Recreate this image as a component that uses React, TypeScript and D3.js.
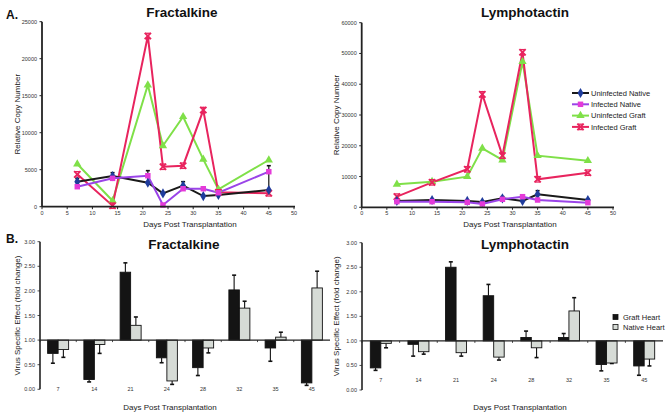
import React from "react";
import * as d3 from "d3";

const days = [7, 14, 21, 24, 28, 32, 35, 45];
const seriesNames = ["Uninfected Native", "Infected Native", "Uninfected Graft", "Infected Graft"];

// Panel A – Fractalkine (relative copy number)
const fracUninfNative = [3380, 4140, 3240, 1800, 2840, 1440, 1580, 2260];
const fracUninfNativeErr = [450, 460, 1630, 0, 540, 0, 0, 3280];
const fracInfNative = [2700, 3830, 4190, 225, 2430, 2430, 1890, 4730];
const fracUninfGraft = [5770, 810, 16440, 8240, 12160, 6400, 2340, 6310];
const fracInfGraft = [4370, 135, 23070, 5400, 5540, 13060, 1940, 1810];
const fracYTicks = [0, 5000, 10000, 15000, 20000, 25000];

// Panel A – Lymphotactin
const lymUninfNative = [2060, 2380, 2060, 1730, 2920, 2050, 4230, 2370];
const lymUninfNativeErr = [200, 250, 200, 150, 550, 250, 1170, 300];
const lymInfNative = [1840, 1840, 1620, 1080, 2600, 3450, 2370, 1500];
const lymUninfGraft = [7470, 8340, 9960, 19170, 15380, 47320, 16770, 15150];
const lymInfGraft = [3470, 8120, 12350, 36710, 16790, 50380, 9100, 11250];
const lymYTicks = [0, 10000, 20000, 30000, 40000, 50000, 60000];

const xTicks = [0, 5, 10, 15, 20, 25, 30, 35, 40, 45, 50];

// Panel B – virus specific effect (fold change)
const barSeries = ["Graft Heart", "Native Heart"];
const fracGraft = [0.73, 0.2, 2.38, 0.64, 0.44, 2.02, 0.84, 0.13];
const fracGraftErr = [0.2, 0.05, 0.19, 0.1, 0.16, 0.3, 0.27, 0.05];
const fracNative = [0.81, 0.91, 1.3, 0.17, 0.84, 1.65, 1.06, 2.06];
const fracNativeErr = [0.16, 0.18, 0.17, 0.07, 0.1, 0.14, 0.1, 0.34];
const lymGraft = [0.45, 0.93, 2.5, 1.92, 1.07, 1.07, 0.52, 0.49];
const lymGraftErr = [0.05, 0.24, 0.11, 0.23, 0.13, 0.08, 0.13, 0.19];
const lymNative = [0.95, 0.78, 0.76, 0.67, 0.86, 1.61, 0.55, 0.63];
const lymNativeErr = [0.09, 0.05, 0.07, 0.06, 0.2, 0.27, 0.01, 0.14];
const barYTicks = [0, 0.5, 1, 1.5, 2, 2.5, 3];

const FONT = "Arial, 'Liberation Sans', sans-serif";
const LINE_COLORS = ["#1a1a1a", "#9a44e8", "#7fe048", "#e8245e"];
const MARK_COLORS = ["#1f3c9c", "#e43ad8", "#7fe048", "#e8245e"];
const SYMBOLS = [d3.symbolDiamond, d3.symbolSquare, d3.symbolTriangle, d3.symbolX];

function Marker({ i, x, y }: { i: number; x: number; y: number }) {
  const path = d3.symbol().type(SYMBOLS[i]).size(i === 3 ? 28 : 30)()!;
  if (i === 3) {
    return (
      <g transform={`translate(${x},${y})`}>
        <path d={path} fill="none" stroke={MARK_COLORS[i]} strokeWidth={1.8} />
        <line x1={-2.5} x2={2.5} y1={-2.7} y2={-2.7} stroke={MARK_COLORS[i]} strokeWidth={1.3} />
        <line x1={-2.5} x2={2.5} y1={2.7} y2={2.7} stroke={MARK_COLORS[i]} strokeWidth={1.3} />
      </g>
    );
  }
  return <path d={path} transform={`translate(${x},${y})`} fill={MARK_COLORS[i]} />;
}

type LineProps = {
  title: string;
  titleX: number;
  xRange: [number, number];
  yRange: [number, number];
  yMax: number;
  yTicks: number[];
  series: number[][];
  err: number[];
  yLabelX: number;
  xTitleX: number;
};

function LinePanel(p: LineProps) {
  const x = d3.scaleLinear().domain([0, 50]).range(p.xRange);
  const y = d3.scaleLinear().domain([0, p.yMax]).range(p.yRange);
  const line = d3
    .line<number>()
    .x((_, i) => x(days[i]))
    .y((d) => y(d));
  const order = [2, 3, 0, 1];
  const y0 = p.yRange[0];
  return (
    <g fontFamily={FONT}>
      <text x={p.titleX} y={17} textAnchor="middle" fontSize={13.5} fontWeight="bold" fill="#111">
        {p.title}
      </text>
      {p.err.map((e, i) =>
        e > 0 ? (
          <g key={"e" + i}>
            <line x1={x(days[i])} x2={x(days[i])} y1={y(p.series[0][i])} y2={y(p.series[0][i] + e)} stroke="#111" strokeWidth={1.2} />
            <line x1={x(days[i]) - 2} x2={x(days[i]) + 2} y1={y(p.series[0][i] + e)} y2={y(p.series[0][i] + e)} stroke="#111" strokeWidth={1.6} />
          </g>
        ) : null
      )}
      {order.map((si) => (
        <path key={"l" + si} d={line(p.series[si])!} fill="none" stroke={LINE_COLORS[si]} strokeWidth={2} />
      ))}
      {order.map((si) =>
        p.series[si].map((v, i) => <Marker key={`m${si}-${i}`} i={si} x={x(days[i])} y={y(v)} />)
      )}
      <line x1={p.xRange[0]} x2={p.xRange[1] + 1} y1={y0} y2={y0} stroke="#222" strokeWidth={1.8} />
      <line x1={p.xRange[0]} x2={p.xRange[0]} y1={y0} y2={p.yRange[1]} stroke="#222" strokeWidth={1.8} />
      {xTicks.map((t) => (
        <g key={"xt" + t}>
          <line x1={x(t)} x2={x(t)} y1={y0} y2={y0 + 2.5} stroke="#222" strokeWidth={1} />
          <text x={x(t)} y={y0 + 8} textAnchor="middle" fontSize={5.5} fill="#333">
            {t}
          </text>
        </g>
      ))}
      {p.yTicks.map((t) => (
        <g key={"yt" + t}>
          <line x1={p.xRange[0] - 2.5} x2={p.xRange[0]} y1={y(t)} y2={y(t)} stroke="#222" strokeWidth={1} />
          <text x={p.xRange[0] - 5} y={y(t) + 2} textAnchor="end" fontSize={5.5} fill="#333">
            {t}
          </text>
        </g>
      ))}
      <text
        transform={`translate(${p.yLabelX},${(p.yRange[0] + p.yRange[1]) / 2}) rotate(-90)`}
        textAnchor="middle"
        fontSize={8}
        fill="#222"
      >
        Relative Copy Number
      </text>
      <text x={p.xTitleX} y={y0 + 20} textAnchor="middle" fontSize={8} fill="#222">
        Days Post Transplantation
      </text>
    </g>
  );
}

type BarProps = {
  title: string;
  titleX: number;
  titleY: number;
  xRange: [number, number];
  yRange: [number, number];
  graft: number[];
  graftErr: number[];
  native: number[];
  nativeErr: number[];
  dayLabelY: number;
  yLabelX: number;
  xTitleX: number;
};

function BarPanel(p: BarProps) {
  const band = d3.scaleBand<number>().domain(days).range(p.xRange);
  const y = d3.scaleLinear().domain([0, 3]).range(p.yRange);
  const base = y(1);
  const bw = 10.5;
  const ax = p.xRange[0];
  const bars = (vals: number[], errs: number[], side: number, fill: string) =>
    vals.map((v, i) => {
      const cx = band(days[i])! + band.bandwidth() / 2;
      const x0 = side < 0 ? cx - bw : cx;
      const top = Math.min(y(v), base);
      const h = Math.abs(y(v) - base);
      const ev = v >= 1 ? v + errs[i] : v - errs[i];
      const ex = x0 + bw / 2;
      return (
        <g key={fill + i}>
          <line x1={ex} x2={ex} y1={y(v)} y2={y(ev)} stroke="#111" strokeWidth={1.1} />
          <line x1={ex - 2} x2={ex + 2} y1={y(ev)} y2={y(ev)} stroke="#111" strokeWidth={1.6} />
          <rect x={x0} y={top} width={bw} height={Math.max(h, 0.5)} fill={fill} stroke="#111" strokeWidth={0.9} />
        </g>
      );
    });
  return (
    <g fontFamily={FONT}>
      <text x={p.titleX} y={p.titleY} textAnchor="middle" fontSize={13.5} fontWeight="bold" fill="#111">
        {p.title}
      </text>
      {bars(p.graft, p.graftErr, -1, "#141414")}
      {bars(p.native, p.nativeErr, 1, "#d6dbd6")}
      <line x1={ax} x2={p.xRange[1]} y1={base} y2={base} stroke="#222" strokeWidth={1.4} />
      {days.map((d, i) => (
        <line key={"bt" + i} x1={band(d)!} x2={band(d)!} y1={base} y2={base + 2} stroke="#222" strokeWidth={0.8} />
      ))}
      <line x1={ax} x2={ax} y1={p.yRange[0]} y2={p.yRange[1]} stroke="#222" strokeWidth={1.6} />
      {barYTicks.map((t) => (
        <g key={"byt" + t}>
          <line x1={ax - 2.5} x2={ax} y1={y(t)} y2={y(t)} stroke="#222" strokeWidth={0.8} />
          <text x={ax - 5} y={y(t) + 2} textAnchor="end" fontSize={5.5} fill="#333">
            {t.toFixed(2)}
          </text>
        </g>
      ))}
      {days.map((d) => (
        <text key={"dl" + d} x={band(d)! + band.bandwidth() / 2} y={p.dayLabelY} textAnchor="middle" fontSize={5.5} fill="#333">
          {d}
        </text>
      ))}
      <text
        transform={`translate(${p.yLabelX},${(p.yRange[0] + p.yRange[1]) / 2}) rotate(-90)`}
        textAnchor="middle"
        fontSize={8}
        fill="#222"
      >
        Virus Specific Effect (fold change)
      </text>
      <text x={p.xTitleX} y={410} textAnchor="middle" fontSize={8} fill="#222">
        Days Post Transplantation
      </text>
    </g>
  );
}

export default function App() {
  return (
    <svg
      width={668}
      height={417}
      style={{ position: "absolute", left: 0, top: 0, background: "#fff" }}
      viewBox="0 0 668 417"
    >
      <rect width={668} height={417} fill="#fff" />
      <text x={6} y={19} fontFamily={FONT} fontWeight="bold" fontSize={12} fill="#111">
        A.
      </text>
      <text x={6} y={243} fontFamily={FONT} fontWeight="bold" fontSize={12} fill="#111">
        B.
      </text>
      <LinePanel
        title="Fractalkine"
        titleX={182}
        xRange={[42, 294]}
        yRange={[206.7, 21.7]}
        yMax={25000}
        yTicks={fracYTicks}
        series={[fracUninfNative, fracInfNative, fracUninfGraft, fracInfGraft]}
        err={fracUninfNativeErr}
        yLabelX={20}
        xTitleX={190}
      />
      <LinePanel
        title="Lymphotactin"
        titleX={525}
        xRange={[361.7, 613]}
        yRange={[207.3, 22.7]}
        yMax={60000}
        yTicks={lymYTicks}
        series={[lymUninfNative, lymInfNative, lymUninfGraft, lymInfGraft]}
        err={lymUninfNativeErr}
        yLabelX={339}
        xTitleX={510}
      />
      <g fontFamily={FONT}>
        {seriesNames.map((n, i) => {
          const yy = 93 + i * 11.3;
          return (
            <g key={n}>
              <line x1={572} x2={589} y1={yy} y2={yy} stroke={LINE_COLORS[i]} strokeWidth={2} />
              <Marker i={i} x={580.5} y={yy} />
              <text x={591} y={yy + 2.7} fontSize={7.5} fill="#222">
                {n}
              </text>
            </g>
          );
        })}
      </g>
      <BarPanel
        title="Fractalkine"
        titleX={184}
        titleY={249}
        xRange={[40, 330]}
        yRange={[389.3, 241.7]}
        graft={fracGraft}
        graftErr={fracGraftErr}
        native={fracNative}
        nativeErr={fracNativeErr}
        dayLabelY={391}
        yLabelX={20}
        xTitleX={170}
      />
      <BarPanel
        title="Lymphotactin"
        titleX={525}
        titleY={249}
        xRange={[362, 663]}
        yRange={[390, 242.7]}
        graft={lymGraft}
        graftErr={lymGraftErr}
        native={lymNative}
        nativeErr={lymNativeErr}
        dayLabelY={382}
        yLabelX={339}
        xTitleX={520}
      />
      <g fontFamily={FONT}>
        {barSeries.map((n, i) => (
          <g key={n}>
            <rect x={613} y={314.5 + i * 10} width={5} height={5} fill={i === 0 ? "#141414" : "#d6dbd6"} stroke="#111" strokeWidth={0.8} />
            <text x={623} y={319.8 + i * 10} fontSize={7.5} fill="#222">
              {n}
            </text>
          </g>
        ))}
      </g>
    </svg>
  );
}
